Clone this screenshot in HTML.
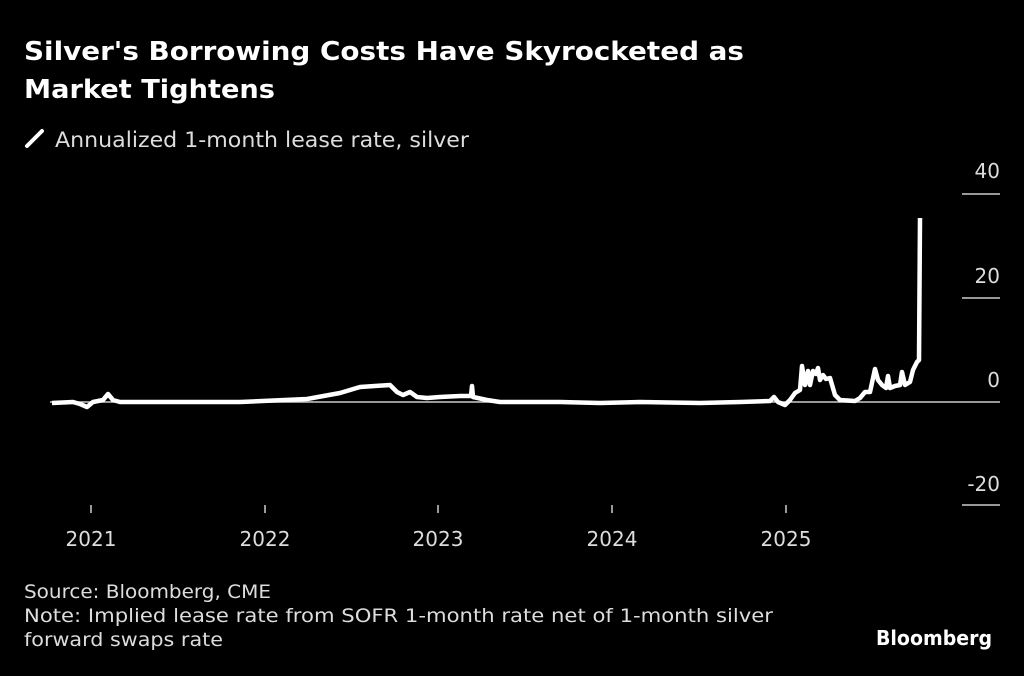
<!DOCTYPE html>
<html><head><meta charset="utf-8"><style>
html,body{margin:0;padding:0;background:#000;}
svg{display:block}
text{font-family:"DejaVu Sans","Liberation Sans",sans-serif;}
</style></head><body>
<svg width="1024" height="676" viewBox="0 0 1024 676" xmlns="http://www.w3.org/2000/svg">
<rect width="1024" height="676" fill="#000"/>
<text x="24" y="60" fill="#fff" font-size="26" font-weight="bold" textLength="720" lengthAdjust="spacingAndGlyphs">Silver's Borrowing Costs Have Skyrocketed as</text>
<text x="24" y="98" fill="#fff" font-size="26" font-weight="bold" textLength="251" lengthAdjust="spacingAndGlyphs">Market Tightens</text>
<line x1="27" y1="146" x2="42" y2="131" stroke="#fff" stroke-width="4" stroke-linecap="round"/>
<text x="55" y="147" fill="#ddd" font-size="21" textLength="414" lengthAdjust="spacingAndGlyphs">Annualized 1-month lease rate, silver</text>
<g fill="#ddd" font-size="20" text-anchor="end">
<text x="1000" y="178">40</text>
<text x="1000" y="283">20</text>
<text x="1000" y="387">0</text>
<text x="1000" y="491">-20</text>
</g>
<g stroke="#ccc" stroke-width="1.5">
<line x1="962" y1="194" x2="1000" y2="194"/>
<line x1="962" y1="298" x2="1000" y2="298"/>
<line x1="962" y1="505" x2="1000" y2="505"/>
<line x1="50" y1="402" x2="1000" y2="402"/>
<line x1="91" y1="505" x2="91" y2="513"/>
<line x1="265" y1="505" x2="265" y2="513"/>
<line x1="438" y1="505" x2="438" y2="513"/>
<line x1="612" y1="505" x2="612" y2="513"/>
<line x1="786" y1="505" x2="786" y2="513"/>
</g>
<g fill="#ddd" font-size="20" text-anchor="middle">
<text x="91" y="546">2021</text>
<text x="265" y="546">2022</text>
<text x="438" y="546">2023</text>
<text x="612" y="546">2024</text>
<text x="786" y="546">2025</text>
</g>
<polyline fill="none" stroke="#fff" stroke-width="4.5" stroke-linejoin="round" points="52,403 73,402 80,404 87,407 93,402 103,400 108,394 113,400 120,402 240,402 307,399 340,393 360,387 390,385 397,392 403,395 410,392 417,397 427,398 440,397 460,396 471,396 472,386 473,397 487,400 500,402 560,402 600,403 640,402 700,403 740,402 770,401 774,397 778,402 785,405 790,400 795,393 800,390 802,366 805,385 808,371 810,385 813,371 816,374 818,368 820,380 823,375 826,379 830,378 835,395 840,400 855,401 860,398 865,392 870,392 875,369 878,380 882,385 886,388 888,376 890,388 895,386 900,385 902,372 905,385 910,382 913,370 917,362 919,360 920,218"/>
<g fill="#ddd" font-size="19">
<text x="24" y="598" textLength="247" lengthAdjust="spacingAndGlyphs">Source: Bloomberg, CME</text>
<text x="24" y="622" textLength="749" lengthAdjust="spacingAndGlyphs">Note: Implied lease rate from SOFR 1-month rate net of 1-month silver</text>
<text x="24" y="646" textLength="199" lengthAdjust="spacingAndGlyphs">forward swaps rate</text>
</g>
<text x="876" y="645" fill="#fff" font-size="20" font-weight="bold" font-family="Liberation Sans, sans-serif" textLength="116" lengthAdjust="spacingAndGlyphs">Bloomberg</text>
</svg>
</body></html>
